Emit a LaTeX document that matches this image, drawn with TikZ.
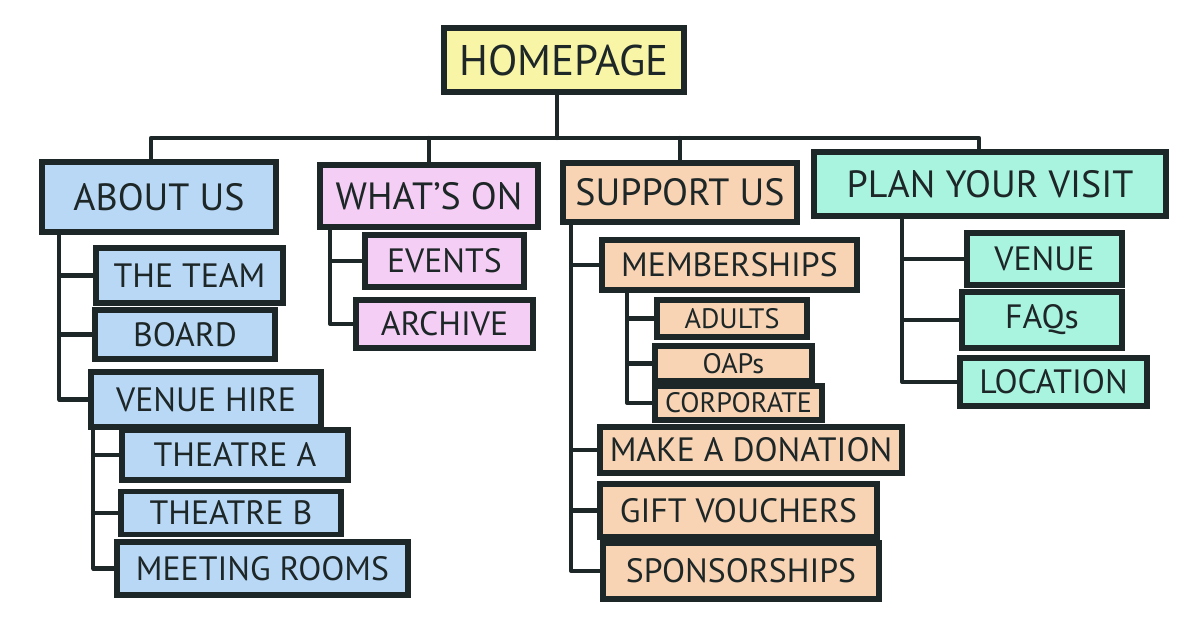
\documentclass[tikz,border=0pt]{standalone}
\usepackage{fontspec}
\setmainfont{PT Sans}

\definecolor{ink}{HTML}{1E2727}
\definecolor{homeyellow}{HTML}{F8F5A6}
\definecolor{aboutblue}{HTML}{B9D8F6}
\definecolor{whatspink}{HTML}{F5CEF5}
\definecolor{supportpeach}{HTML}{F8D3B4}
\definecolor{planmint}{HTML}{A9F4DE}

\tikzset{
    page/.style={draw=ink, line width=1.5pt, text=ink, inner sep=0pt, font=\fontsize{9.6}{11}\selectfont},
    section/.style={page, font=\fontsize{10.8}{12}\selectfont},
    subpage/.style={page, font=\fontsize{8}{10}\selectfont},
    link/.style={draw=ink, line width=1.2pt, line cap=round, line join=round},
}

\begin{document}
\begin{tikzpicture}
    \useasboundingbox (0,0) rectangle (12,-6.38);

    \node[page, fill=homeyellow, minimum width=2.40cm, minimum height=0.64cm, font=\fontsize{12.2}{14}\selectfont] at (5.64,-0.60) (home) {HOMEPAGE};

    \node[section, fill=aboutblue, minimum width=2.34cm, minimum height=0.70cm] at (1.59,-1.97) (about) {ABOUT US};
    \node[section, fill=whatspink, minimum width=2.18cm, minimum height=0.62cm] at (4.29,-1.96) (whatson) {WHAT'S ON};
    \node[section, fill=supportpeach, minimum width=2.34cm, minimum height=0.59cm] at (6.80,-1.925) (support) {SUPPORT US};
    \node[section, fill=planmint, minimum width=3.52cm, minimum height=0.64cm] at (9.90,-1.84) (plan) {PLAN YOUR VISIT};

    \node[page, fill=aboutblue, minimum width=1.87cm, minimum height=0.55cm] at (1.895,-2.755) (team) {THE TEAM};
    \node[page, fill=aboutblue, minimum width=1.80cm, minimum height=0.49cm] at (1.85,-3.345) (board) {BOARD};
    \node[page, fill=aboutblue, minimum width=2.30cm, minimum height=0.55cm] at (2.06,-3.995) (venuehire) {VENUE HIRE};
    \node[page, fill=aboutblue, minimum width=2.26cm, minimum height=0.50cm] at (2.35,-4.55) (theatrea) {THEATRE A};
    \node[page, fill=aboutblue, minimum width=2.20cm, minimum height=0.43cm] at (2.31,-5.13) (theatreb) {THEATRE B};
    \node[page, fill=aboutblue, minimum width=2.91cm, minimum height=0.53cm] at (2.625,-5.685) (meeting) {MEETING ROOMS};

    \node[page, fill=whatspink, minimum width=1.59cm, minimum height=0.52cm] at (4.445,-2.61) (events) {EVENTS};
    \node[page, fill=whatspink, minimum width=1.77cm, minimum height=0.48cm] at (4.445,-3.24) (archive) {ARCHIVE};

    \node[page, fill=supportpeach, minimum width=2.55cm, minimum height=0.50cm] at (7.295,-2.65) (members) {MEMBERSHIPS};
    \node[subpage, fill=supportpeach, minimum width=1.50cm, minimum height=0.37cm] at (7.32,-3.185) (adults) {ADULTS};
    \node[subpage, fill=supportpeach, minimum width=1.57cm, minimum height=0.35cm] at (7.335,-3.635) (oaps) {OAPs};
    \node[subpage, fill=supportpeach, minimum width=1.67cm, minimum height=0.34cm] at (7.385,-4.03) (corporate) {CORPORATE};
    \node[page, fill=supportpeach, minimum width=3.02cm, minimum height=0.46cm] at (7.51,-4.50) (donation) {MAKE A DONATION};
    \node[page, fill=supportpeach, minimum width=2.77cm, minimum height=0.53cm] at (7.385,-5.105) (gift) {GIFT VOUCHERS};
    \node[page, fill=supportpeach, minimum width=2.76cm, minimum height=0.56cm] at (7.41,-5.71) (sponsor) {SPONSORSHIPS};

    \node[page, fill=planmint, minimum width=1.55cm, minimum height=0.52cm] at (10.445,-2.59) (venue) {VENUE};
    \node[page, fill=planmint, minimum width=1.60cm, minimum height=0.56cm] at (10.42,-3.20) (faqs) {FAQs};
    \node[page, fill=planmint, minimum width=1.87cm, minimum height=0.48cm] at (10.535,-3.82) (location) {LOCATION};

    \coordinate (bus) at (5.57,-1.38);
    \draw[link] (bus |- home.south) -- (bus);
    \draw[link] ([xshift=-0.08cm]about.north) |- (bus) -| ([xshift=-0.11cm]plan.north);
    \draw[link] (whatson.north) -- (whatson.north |- bus);
    \draw[link] (support.north) -- (support.north |- bus);

    \coordinate (aboutstem) at ([xshift=0.20cm]about.south west);
    \draw[link] (aboutstem) |- (venuehire.west);
    \draw[link] (aboutstem |- team.west) -- (team.west);
    \draw[link] (aboutstem |- board.west) -- (board.west);

    \coordinate (hirestem) at ([xshift=0.05cm]venuehire.south west);
    \draw[link] (hirestem) |- (meeting.west);
    \draw[link] (hirestem |- theatrea.west) -- (theatrea.west);
    \draw[link] (hirestem |- theatreb.west) -- (theatreb.west);

    \coordinate (whatsstem) at ([xshift=0.13cm]whatson.south west);
    \draw[link] (whatsstem) |- (archive.west);
    \draw[link] (whatsstem |- events.west) -- (events.west);

    \coordinate (supportstem) at ([xshift=0.11cm]support.south west);
    \draw[link] (supportstem) |- (sponsor.west);
    \draw[link] (supportstem |- members.west) -- (members.west);
    \draw[link] (supportstem |- donation.west) -- (donation.west);
    \draw[link] (supportstem |- gift.west) -- (gift.west);

    \coordinate (memberstem) at ([xshift=0.28cm]members.south west);
    \draw[link] (memberstem) |- (corporate.west);
    \draw[link] (memberstem |- adults.west) -- (adults.west);
    \draw[link] (memberstem |- oaps.west) -- (oaps.west);

    \coordinate (planstem) at ([xshift=0.91cm]plan.south west);
    \draw[link] (planstem) |- (location.west);
    \draw[link] (planstem |- venue.west) -- (venue.west);
    \draw[link] (planstem |- faqs.west) -- (faqs.west);
\end{tikzpicture}
\end{document}
